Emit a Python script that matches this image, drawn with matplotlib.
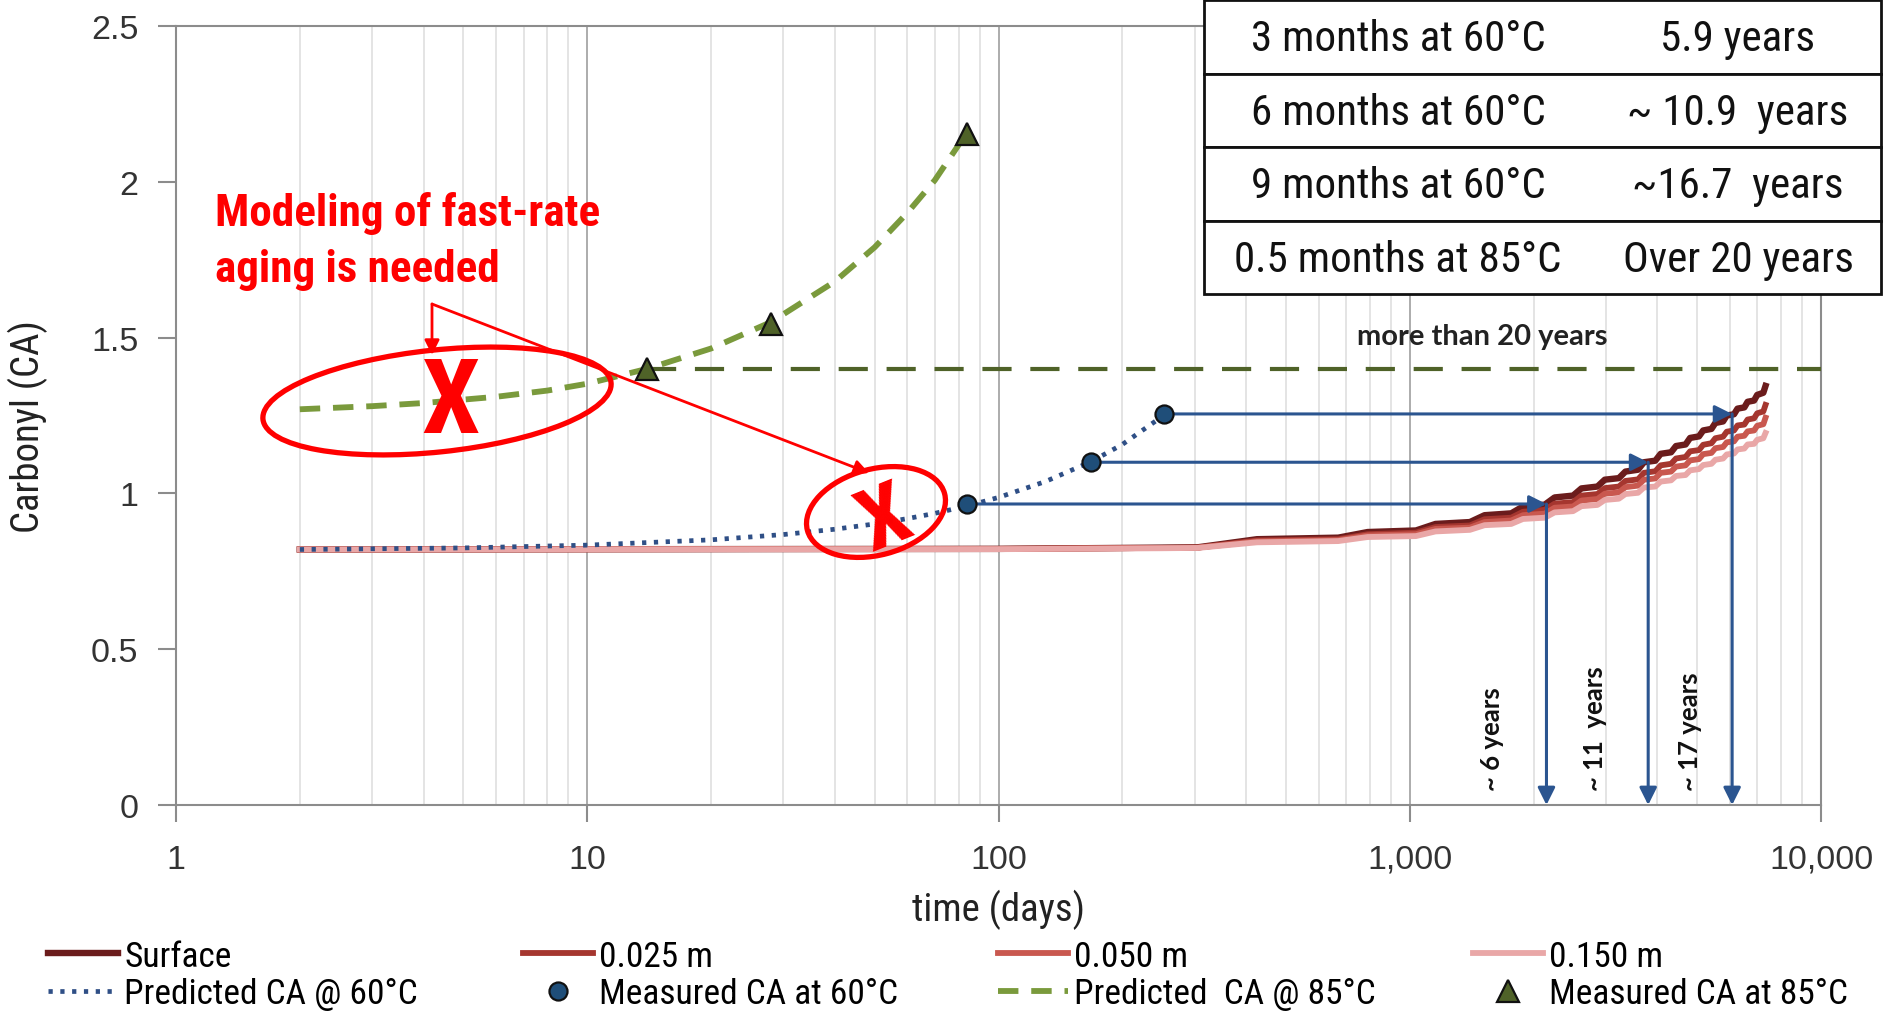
import matplotlib
matplotlib.use('Agg')
import matplotlib.pyplot as plt
from matplotlib import font_manager as fm
from matplotlib.patches import Ellipse, Rectangle, FancyArrowPatch
from matplotlib.ticker import FixedLocator, LogLocator, NullFormatter, FixedFormatter

# ---------------- data ----------------
days = [2, 100, 250, 305, 425, 670, 790, 1035, 1155, 1400, 1520, 1765, 1885, 2130,
        2250, 2495, 2615, 2860, 2980, 3225, 3345, 3590, 3710, 3955, 4075, 4320,
        4440, 4685, 4805, 5050, 5170, 5415, 5535, 5780, 5900, 6145, 6265, 6510,
        6630, 6875, 6995, 7240, 7330]
surface = [0.820, 0.822, 0.826, 0.827, 0.853, 0.858, 0.876, 0.881, 0.902, 0.908,
           0.930, 0.936, 0.958, 0.964, 0.987, 0.993, 1.016, 1.022, 1.044, 1.049,
           1.070, 1.076, 1.100, 1.105, 1.127, 1.132, 1.152, 1.157, 1.178, 1.183,
           1.202, 1.207, 1.226, 1.231, 1.250, 1.254, 1.272, 1.276, 1.294, 1.298,
           1.316, 1.323, 1.345]
depth_025 = [0.820, 0.822, 0.825, 0.826, 0.849, 0.853, 0.869, 0.874, 0.892, 0.897,
             0.917, 0.922, 0.941, 0.947, 0.967, 0.972, 0.993, 0.998, 1.017, 1.022,
             1.040, 1.045, 1.066, 1.071, 1.090, 1.095, 1.112, 1.117, 1.135, 1.139,
             1.156, 1.161, 1.177, 1.182, 1.198, 1.202, 1.218, 1.221, 1.237, 1.241,
             1.257, 1.263, 1.284]
depth_050 = [0.820, 0.822, 0.825, 0.826, 0.846, 0.850, 0.865, 0.869, 0.886, 0.890,
             0.908, 0.913, 0.930, 0.935, 0.954, 0.958, 0.977, 0.982, 0.999, 1.003,
             1.020, 1.025, 1.044, 1.048, 1.066, 1.070, 1.086, 1.090, 1.106, 1.110,
             1.126, 1.130, 1.145, 1.149, 1.164, 1.167, 1.182, 1.185, 1.199, 1.202,
             1.217, 1.222, 1.243]
depth_150 = [0.820, 0.821, 0.824, 0.825, 0.843, 0.847, 0.860, 0.863, 0.878, 0.883,
             0.898, 0.902, 0.918, 0.922, 0.939, 0.943, 0.959, 0.963, 0.979, 0.983,
             0.998, 1.002, 1.019, 1.022, 1.038, 1.042, 1.056, 1.059, 1.074, 1.078,
             1.091, 1.095, 1.108, 1.112, 1.125, 1.128, 1.141, 1.144, 1.157, 1.159,
             1.172, 1.177, 1.194]

pred60_days = [2, 5, 10, 20, 30, 40, 50, 60, 70, 84, 100, 130, 168, 200, 252]
pred60_vals = [0.820, 0.825, 0.834, 0.851, 0.868, 0.885, 0.902, 0.919, 0.936, 0.960,
               0.987, 1.038, 1.102, 1.157, 1.250]
meas60_days = [84, 168, 252]
meas60_vals = [0.966, 1.100, 1.255]

pred85_days = [2, 3, 4, 6, 8, 10, 14, 20, 28, 40, 50, 60, 70, 84]
pred85_vals = [1.270, 1.280, 1.290, 1.310, 1.330, 1.352, 1.400, 1.465, 1.550, 1.680,
               1.790, 1.900, 2.005, 2.160]
meas85_days = [14, 28, 84]
meas85_vals = [1.400, 1.545, 2.155]

threshold = 1.40
arrow_days = [2150, 3800, 6080]
arrow_labels = ['~ 6 years', '~ 11  years', '~ 17 years']

xticks = [1, 10, 100, 1000, 10000]
xtick_labels = ['1', '10', '100', '1,000', '10,000']
yticks = [0, 0.5, 1, 1.5, 2, 2.5]
ytick_labels = ['0', '0.5', '1', '1.5', '2', '2.5']

table_left = ['3 months at 60°C', '6 months at 60°C', '9 months at 60°C', '0.5 months at 85°C']
table_right = ['5.9 years', '~ 10.9  years', '~16.7  years', 'Over 20 years']

# ---------------- fonts ----------------
avail = {f.name for f in fm.fontManager.ttflist}
pref = ['Liberation Sans Narrow', 'Arial Narrow', 'Roboto Condensed', 'Archivo Narrow']
NARROW = next((p for p in pref if p in avail), 'Liberation Sans')
HAS_NARROW = NARROW != 'Liberation Sans'
NS = 1.0 if HAS_NARROW else 0.86
CAL = 'Lato' if 'Lato' in avail else 'DejaVu Sans'
plt.rcParams['font.family'] = ['Liberation Sans', 'DejaVu Sans']

# ---------------- figure ----------------
W, H = 1893, 1020
fig = plt.figure(figsize=(W / 100, H / 100), dpi=100)
L, R, T, B = 176, 1821, 27, 806
ax = fig.add_axes([L / W, (H - B) / H, (R - L) / W, (B - T) / H])
ax.set_xscale('log')
ax.set_xlim(1, 10000)
ax.set_ylim(0, 2.5)

RED_COLS = ['#6B1C1C', '#A5362F', '#C9584F', '#E9A7A7']
ax.plot(days, surface, color=RED_COLS[0], lw=4.6, label='Surface', zorder=3)
ax.plot(days, depth_025, color=RED_COLS[1], lw=4.2, label='0.025 m', zorder=3)
ax.plot(days, depth_050, color=RED_COLS[2], lw=4.2, label='0.050 m', zorder=3)
ax.plot(days, depth_150, color=RED_COLS[3], lw=4.2, label='0.150 m', zorder=3)

BLUE = '#2B5590'
ax.plot(pred60_days, pred60_vals, color='#2F4F86', lw=3.4, ls=(0, (0.9, 1.6)),
        label='Predicted CA @ 60°C', zorder=5)
ax.plot(meas60_days, meas60_vals, ls='none', marker='o', ms=13, mfc='#1F4E79',
        mec='#111111', mew=1.6, label='Measured CA at 60°C', zorder=8)
ax.plot(pred85_days, pred85_vals, color='#7A9A3C', lw=4.2, ls=(0, (3.5, 2.2)),
        label='Predicted  CA @ 85°C', zorder=4)
ax.plot(meas85_days, meas85_vals, ls='none', marker='^', ms=16, mfc='#4F6228',
        mec='#111111', mew=1.6, label='Measured CA at 85°C', zorder=8)

ax.hlines(threshold, meas85_days[0], ax.get_xlim()[1], colors='#4F6228', lw=3,
          linestyles=[(0, (7, 4.5))], zorder=4)

label_offsets = [-39, -38, -30]
for d0, lvl, dx, lab, off in zip(meas60_days, meas60_vals, arrow_days, arrow_labels,
                                 label_offsets):
    ax.annotate('', xy=(dx, lvl), xytext=(d0, lvl),
                arrowprops=dict(arrowstyle='-|>', color=BLUE, lw=2.2, mutation_scale=26,
                                shrinkA=7, shrinkB=0), zorder=6)
    ax.annotate('', xy=(dx, 0), xytext=(dx, lvl),
                arrowprops=dict(arrowstyle='-|>', color=BLUE, lw=2.2, mutation_scale=26,
                                shrinkA=0, shrinkB=0), zorder=6)
    ax.annotate(lab, xy=(dx, 0), xytext=(off, 11), textcoords='offset points',
                rotation=90, ha='center', va='bottom', fontsize=18.5,
                fontweight='bold', family=CAL, color='#111111')

ax.text(1500, 1.505, 'more than 20 years', ha='center', va='center', fontsize=21,
        fontweight='bold', family=CAL, color='#222222')

# axes styling
SP = '#8C8C8C'
for s in ax.spines.values():
    s.set_color(SP)
    s.set_linewidth(1.5)
ax.xaxis.set_major_locator(FixedLocator(xticks))
ax.xaxis.set_major_formatter(FixedFormatter(xtick_labels))
ax.xaxis.set_minor_locator(LogLocator(base=10, subs=[2, 3, 4, 5, 6, 7, 8, 9], numticks=20))
ax.xaxis.set_minor_formatter(NullFormatter())
ax.yaxis.set_major_locator(FixedLocator(yticks))
ax.yaxis.set_major_formatter(FixedFormatter(ytick_labels))
ax.grid(which='major', axis='x', color='#A6A6A6', lw=1.3)
ax.grid(which='minor', axis='x', color='#DCDCDC', lw=1.1)
ax.set_axisbelow(True)
ax.tick_params(axis='y', which='major', direction='out', length=13, width=1.5, color=SP,
               pad=14, labelsize=24.5, labelcolor='#333333')
ax.tick_params(axis='x', which='major', direction='out', length=12, width=1.5, color=SP,
               pad=16, labelsize=24.5, labelcolor='#333333')
ax.tick_params(axis='x', which='minor', length=0)

ax.set_xlabel('time (days)', fontsize=28 * NS, family=NARROW, color='#222222')
ax.set_ylabel('Carbonyl (CA)', fontsize=28 * NS, family=NARROW, color='#222222')
ax.xaxis.set_label_coords(0.5, -0.108)
ax.yaxis.set_label_coords(-0.078, 0.487)

# legend: four two-entry columns at fixed positions
handles, labels = ax.get_legend_handles_labels()
LEG_FS = 25.5 * NS
fs_px = LEG_FS * 100 / 72
col_x = [48, 523, 998, 1473]
for c in range(4):
    idx = [c, c + 4]
    fig.legend([handles[i] for i in idx], [labels[i] for i in idx], ncol=1,
               loc='center left', bbox_to_anchor=(col_x[c] / W, (H - 976) / H),
               frameon=False, prop={'family': NARROW, 'size': LEG_FS},
               handlelength=70 / fs_px, handletextpad=6 / fs_px,
               labelspacing=0.12, borderpad=0, borderaxespad=0)

# ---------------- red annotations (pixel placement) ----------------
tr = fig.dpi_scale_trans


def inch(x, y):
    return (x / 100, (H - y) / 100)


RED = '#FF0000'
red_lines = ['Modeling of fast-rate', 'aging is needed']
for line, base in zip(red_lines, [226, 282]):
    fig.text(*inch(215, base), line, transform=tr, ha='left', va='baseline',
             fontsize=32.5 if HAS_NARROW else 29.5, fontweight='bold', color=RED,
             family=NARROW)
e1 = Ellipse(inch(437, 402), 3.50, 1.02, angle=6, fill=False, ec=RED, lw=3.8,
             transform=tr)
e2 = Ellipse(inch(876, 513), 1.42, 0.86, angle=15, fill=False, ec=RED, lw=3.8,
             transform=tr)
fig.patches.extend([e1, e2])
fig.text(*inch(451, 405), 'X', transform=tr, ha='center', va='center',
         fontsize=75 * (1 if HAS_NARROW else 0.9), fontweight='bold', color=RED,
         family=NARROW)
fig.text(*inch(885, 521), 'X', transform=tr, ha='center', va='center',
         fontsize=62 * (1 if HAS_NARROW else 0.9), fontweight='bold', color=RED,
         family=NARROW, rotation=22)
for tgt in [(432, 356), (869, 474)]:
    a = FancyArrowPatch(inch(432, 305), inch(*tgt), transform=tr, arrowstyle='-|>',
                        mutation_scale=22, color=RED, lw=2, shrinkA=0, shrinkB=0)
    fig.patches.append(a)

# ---------------- table ----------------
tx0, tx1 = 1204, 1881
row_edges = [1, 75, 148, 222, 295]
for i in range(4):
    y0, y1 = row_edges[i], row_edges[i + 1]
    rect = Rectangle(inch(tx0, y1), (tx1 - tx0) / 100, (y1 - y0) / 100, transform=tr,
                     fc='white', ec='#111111', lw=2, zorder=10)
    fig.patches.append(rect)
    yc = (y0 + y1) / 2 + 2
    fig.text(*inch(1398, yc), table_left[i], transform=tr, ha='center', va='center',
             fontsize=31 * NS, family=NARROW, color='#111111', zorder=11)
    fig.text(*inch(1738, yc), table_right[i], transform=tr, ha='center', va='center',
             fontsize=31 * NS, family=NARROW, color='#111111', zorder=11)

fig.savefig('out.png', dpi=100)
